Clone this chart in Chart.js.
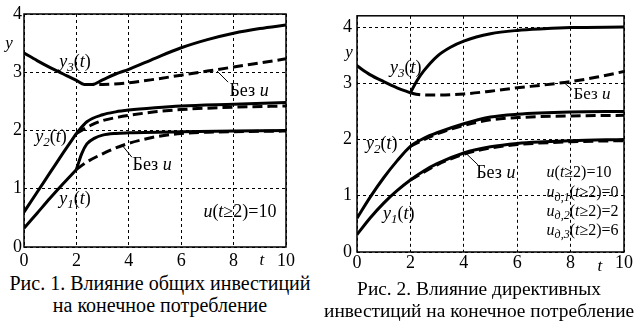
<!DOCTYPE html>
<html><head><meta charset="utf-8">
<script src="https://cdn.jsdelivr.net/npm/chart.js@4"></script>
<style>
html,body{margin:0;padding:0;background:#fff;width:635px;height:332px;overflow:hidden;position:relative;}
#c1wrap{position:absolute;left:0;top:0;width:300px;height:272px;}
#c2wrap{position:absolute;left:330px;top:0;width:305px;height:280px;}
.cap{position:absolute;font-family:'Liberation Serif','Times New Roman',serif;font-size:20px;color:#000;text-align:center;line-height:22px;white-space:nowrap;}
</style></head><body>
<div id="c1wrap"><canvas id="c1" width="300" height="272"></canvas></div>
<div id="c2wrap"><canvas id="c2" width="305" height="280"></canvas></div>
<div class="cap" style="left:0;top:272px;width:320px;">Рис. 1. Влияние общих инвестиций<br>на конечное потребление</div>
<div class="cap" style="left:324px;top:278px;width:310px;font-size:19.4px;">Рис. 2. Влияние директивных<br>инвестиций на конечное потребление</div>
<script>
// ---- tick values ----
const xTickValues = [0, 2, 4, 6, 8, 10];
const yTickValues = [0, 1, 2, 3, 4];

// ---- Fig. 1 data ----
const f1_t_y3  = [0, 0.5, 1, 1.5, 2, 2.3, 2.6, 3, 3.5, 4, 5, 6, 7, 8, 9, 10];
const f1_y3    = [3.33, 3.20, 3.08, 2.97, 2.86, 2.79, 2.79, 2.87, 2.97, 3.05, 3.24, 3.42, 3.56, 3.67, 3.75, 3.81];
const f1_t_y3d = [2.3, 3, 4, 5, 6, 7, 8, 9, 10];
const f1_y3d   = [2.79, 2.79, 2.82, 2.88, 2.95, 3.02, 3.09, 3.16, 3.23];
const f1_t_y2a = [0, 0.5, 1, 1.5, 2];
const f1_y2a   = [0.60, 0.94, 1.28, 1.62, 1.95];
const f1_t_y2b = [2, 2.4, 3, 3.5, 4, 5, 6, 8, 10];
const f1_y2b   = [1.95, 2.15, 2.27, 2.32, 2.35, 2.39, 2.42, 2.45, 2.48];
const f1_t_y2d = [2, 2.6, 3, 3.6, 4, 5, 6, 8, 10];
const f1_y2d   = [1.95, 2.10, 2.17, 2.23, 2.26, 2.32, 2.36, 2.40, 2.42];
const f1_t_y1a = [0, 0.5, 1, 1.5, 2];
const f1_y1a   = [0.32, 0.58, 0.84, 1.09, 1.33];
const f1_t_y1b = [2, 2.1, 2.2, 2.4, 2.7, 3, 3.5, 4, 6, 8, 10];
const f1_y1b   = [1.33, 1.47, 1.60, 1.77, 1.87, 1.92, 1.95, 1.96, 1.98, 1.99, 2.00];
const f1_t_y1d = [2, 2.4, 3, 3.5, 4, 4.5, 5, 6, 7, 8, 10];
const f1_y1d   = [1.33, 1.46, 1.60, 1.70, 1.78, 1.84, 1.89, 1.95, 1.97, 1.98, 1.99];

// ---- Fig. 2 data ----
const f2_t_y3a = [0, 0.5, 1, 1.5, 2];
const f2_y3a   = [3.31, 3.15, 3.03, 2.92, 2.83];
const f2_t_y3b = [2, 2.25, 2.5, 3, 3.5, 4, 5, 6, 7, 8, 10];
const f2_y3b   = [2.83, 3.05, 3.22, 3.48, 3.64, 3.75, 3.88, 3.94, 3.97, 3.99, 4.00];
const f2_t_y3d = [2, 2.3, 3, 4, 5, 6, 7, 8, 9, 10];
const f2_y3d   = [2.83, 2.80, 2.79, 2.81, 2.86, 2.92, 2.97, 3.03, 3.11, 3.21];
const f2_t_y2  = [0, 0.5, 1, 1.5, 2, 2.5, 3, 4, 5, 6, 8, 10];
const f2_y2    = [0.60, 0.98, 1.32, 1.62, 1.88, 2.02, 2.12, 2.28, 2.40, 2.45, 2.49, 2.50];
const f2_t_y2d = [2, 3, 4, 5, 6, 8, 10];
const f2_y2d   = [1.88, 2.10, 2.25, 2.35, 2.39, 2.42, 2.43];
const f2_t_y1  = [0, 0.5, 1, 1.5, 2, 2.5, 3, 4, 5, 6, 7, 8, 10];
const f2_y1    = [0.31, 0.61, 0.87, 1.09, 1.28, 1.44, 1.57, 1.76, 1.87, 1.93, 1.96, 1.98, 2.00];
const f2_t_y1d = [2, 3, 4, 5, 6, 8, 10];
const f2_y1d   = [1.28, 1.55, 1.74, 1.85, 1.91, 1.96, 1.98];

const FAM = "'Liberation Serif','Times New Roman',serif";

function pts(t, v) { return t.map((x, i) => ({ x: x, y: v[i] })); }
function solid(t, v) { return { data: pts(t, v), borderColor: '#000', borderWidth: 3, pointRadius: 0, fill: false, cubicInterpolationMode: 'monotone' }; }
function dashed(t, v) { return { data: pts(t, v), borderColor: '#000', borderWidth: 3, borderDash: [10, 5], pointRadius: 0, fill: false, cubicInterpolationMode: 'monotone' }; }

function drawRich(ctx, x, y, parts, size, align) {
  const fontFor = p => (p.i ? 'italic ' : '') + (p.sub ? Math.round(size * 0.72) : size) + 'px ' + FAM;
  let w = 0;
  for (const p of parts) { ctx.font = fontFor(p); w += ctx.measureText(p.t).width; }
  let cx = align === 'left' ? x : (align === 'right' ? x - w : x - w / 2);
  ctx.textBaseline = 'alphabetic'; ctx.textAlign = 'left'; ctx.fillStyle = '#000';
  const base = y + size * 0.33;
  for (const p of parts) {
    ctx.font = fontFor(p);
    ctx.fillText(p.t, cx, base + (p.sub ? size * 0.22 : 0));
    cx += ctx.measureText(p.t).width;
  }
}

const annotPlugin = {
  id: 'annot',
  afterDatasetsDraw(chart, args, o) {
    const ctx = chart.ctx, xs = chart.scales.x, ys = chart.scales.y, a = chart.chartArea;
    ctx.save();
    ctx.setLineDash([]);
    ctx.strokeStyle = '#000';
    ctx.lineWidth = 1.5;
    ctx.strokeRect(a.left, a.top, a.right - a.left, a.bottom - a.top);
    ctx.lineWidth = 1;
    for (const l of o.leaders) {
      ctx.beginPath();
      ctx.moveTo(xs.getPixelForValue(l[0]), ys.getPixelForValue(l[1]));
      ctx.lineTo(xs.getPixelForValue(l[2]), ys.getPixelForValue(l[3]));
      ctx.stroke();
    }
    for (const lb of o.labels) {
      drawRich(ctx, xs.getPixelForValue(lb.x), ys.getPixelForValue(lb.y), lb.parts, lb.size, lb.align || 'center');
    }
    drawRich(ctx, xs.getPixelForValue(o.tName.x), a.bottom + o.tName.dy, [{ t: 't', i: true }], 17, 'center');
    drawRich(ctx, a.left + o.yName.dx, ys.getPixelForValue(o.yName.y), [{ t: 'y', i: true }], 17, 'center');
    ctx.restore();
  }
};

function makeChart(id, datasets, cfg) {
  return new Chart(document.getElementById(id), {
    type: 'line',
    data: { datasets: datasets },
    options: {
      responsive: false, animation: false, devicePixelRatio: 1,
      layout: { padding: cfg.padding },
      plugins: { legend: { display: false }, tooltip: { enabled: false }, annot: cfg.annot },
      scales: {
        x: {
          type: 'linear', min: 0, max: 10,
          afterBuildTicks: s => { s.ticks = xTickValues.map(v => ({ value: v })); },
          afterFit: s => { s.height = cfg.xh; },
          ticks: { color: '#000', font: { family: FAM, size: 18 }, padding: cfg.xpad, maxRotation: 0 },
          grid: { color: '#000', lineWidth: 1, drawTicks: false },
          border: { display: false, dash: [3, 3] }
        },
        y: {
          type: 'linear', min: 0, max: cfg.ymax,
          afterBuildTicks: s => { s.ticks = yTickValues.map(v => ({ value: v })); },
          afterFit: s => { s.width = cfg.yw; },
          ticks: { color: '#000', font: { family: FAM, size: 18 }, padding: cfg.ypad },
          grid: { color: '#000', lineWidth: 1, drawTicks: false },
          border: { display: false, dash: [3, 3] }
        }
      }
    },
    plugins: [annotPlugin]
  });
}

const Y = n => [{ t: 'y', i: true }, { t: String(n), sub: true, i: true }, { t: '(' }, { t: 't', i: true }, { t: ')' }];
const BEZ = [{ t: 'Без ' }, { t: 'u', i: true }];
const UD = n => [{ t: 'u', i: true }, { t: 'д,' + n, sub: true, i: true }, { t: '(' }, { t: 't', i: true }];

makeChart('c1', [
  solid(f1_t_y3, f1_y3), dashed(f1_t_y3d, f1_y3d),
  solid(f1_t_y2a, f1_y2a), solid(f1_t_y2b, f1_y2b), dashed(f1_t_y2d, f1_y2d),
  solid(f1_t_y1a, f1_y1a), solid(f1_t_y1b, f1_y1b), dashed(f1_t_y1d, f1_y1d)
], {
  padding: { left: 0, top: 14, right: 14, bottom: 0 }, xh: 25, yw: 24, xpad: 3, ypad: 2, ymax: 4,
  annot: {
    labels: [
      { x: 1.95, y: 3.19, parts: Y(3), size: 18 },
      { x: 8.59, y: 2.69, parts: BEZ, size: 18 },
      { x: 1.03, y: 1.90, parts: Y(2), size: 18 },
      { x: 1.95, y: 0.84, parts: Y(1), size: 18 },
      { x: 4.89, y: 1.42, parts: BEZ, size: 18 },
      { x: 8.24, y: 0.61, parts: [{ t: 'u', i: true }, { t: '(' }, { t: 't', i: true }, { t: '≥2)=10' }], size: 18 }
    ],
    leaders: [[7.37, 3.02, 7.79, 2.83], [3.74, 1.75, 4.12, 1.54]],
    tName: { x: 9.08, dy: 12 }, yName: { dx: -15, y: 3.52 }
  }
});

makeChart('c2', [
  solid(f2_t_y3a, f2_y3a), solid(f2_t_y3b, f2_y3b), dashed(f2_t_y3d, f2_y3d),
  solid(f2_t_y2, f2_y2), dashed(f2_t_y2d, f2_y2d),
  solid(f2_t_y1, f2_y1), dashed(f2_t_y1d, f2_y1d)
], {
  padding: { left: 0, top: 11, right: 11, bottom: 0 }, xh: 28, yw: 27, xpad: 0, ypad: 5, ymax: 4.2,
  annot: {
    labels: [
      { x: 1.83, y: 3.29, parts: Y(3), size: 18 },
      { x: 8.80, y: 2.82, parts: BEZ, size: 17 },
      { x: 0.93, y: 1.93, parts: Y(2), size: 18 },
      { x: 1.56, y: 0.69, parts: Y(1), size: 18 },
      { x: 5.20, y: 1.42, parts: BEZ, size: 18 },
      { x: 7.10, y: 1.42, parts: [{ t: 'u', i: true }, { t: '(' }, { t: 't', i: true }, { t: '≥2)=10' }], size: 16, align: 'left' },
      { x: 7.10, y: 1.07, parts: UD(1).concat([{ t: '≥2)=0' }]), size: 16, align: 'left' },
      { x: 7.10, y: 0.74, parts: UD(2).concat([{ t: '≥2)=2' }]), size: 16, align: 'left' },
      { x: 7.10, y: 0.40, parts: UD(3).concat([{ t: '≥2)=6' }]), size: 16, align: 'left' }
    ],
    leaders: [[7.71, 3.03, 8.05, 2.89], [3.96, 1.81, 4.53, 1.55]],
    tName: { x: 9.10, dy: 13 }, yName: { dx: -8, y: 3.57 }
  }
});
</script>
</body></html>
